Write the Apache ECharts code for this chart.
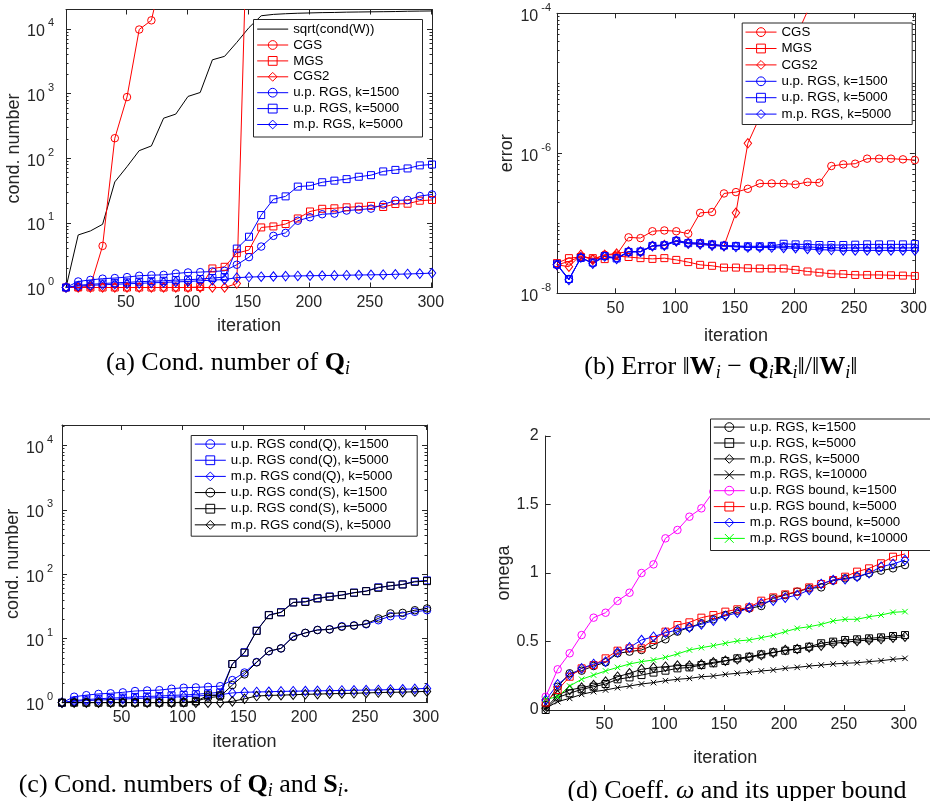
<!DOCTYPE html>
<html><head><meta charset="utf-8">
<script src="https://cdn.jsdelivr.net/npm/echarts@6/dist/echarts.min.js"></script>
<style>html,body{margin:0;padding:0;background:#fff}#c{width:930px;height:801px}</style>
</head><body><div id="c"></div>
<script>
// ---------- data ----------
const iters = [1,11,21,31,41,51,61,71,81,91,101,111,121,131,141,151,161,171,181,191,201,211,221,231,241,251,261,271,281,291,301];
const xTicks = [50,100,150,200,250,300];

// (a) cond. number of Q_i
const a_sqrtW  = [1,6.5,7.5,9.5,43,74,131,155,416,482,904,1040,3330,3770,6200,10500,16000,16800,17200,17500,17700,17900,18000,18200,18300,18400,18500,18600,18800,18900,19000];
const a_CGS    = [1,1,1.05,4.4,204,883,9800,13600,90000];
const a_MGS    = [1,1,1,1,1,1,1,1,1,1,1,1.02,1.97,2.09,3.4,3.8,8.5,8.8,9.6,11.7,15,16.5,16.8,17.4,17.8,18.3,17.6,19.6,19.8,22,22.6];
const a_CGS2   = [1,1,1,1,1,1,1,1,1,1,1,1,1,1,1.15,5e6];
const a_up1500 = [1,1.24,1.31,1.37,1.4,1.45,1.52,1.55,1.57,1.65,1.71,1.73,1.77,1.81,2.25,2.95,4.3,6.3,7.0,10.8,12.2,13.6,13.9,15.5,16,16.6,19.2,22.2,22.6,26,27.5];
const a_up5000 = [1,1.08,1.12,1.15,1.18,1.2,1.23,1.25,1.27,1.3,1.32,1.35,1.4,1.45,4.0,6.1,13.2,23.2,25.7,36.4,37.5,42.5,45,47.5,51.7,54.7,62.5,66,69.5,77.5,80];
const a_mp5000 = [1,1.05,1.08,1.1,1.12,1.14,1.16,1.18,1.2,1.22,1.24,1.27,1.3,1.33,1.42,1.45,1.47,1.48,1.5,1.51,1.52,1.53,1.54,1.55,1.56,1.57,1.58,1.6,1.62,1.64,1.67];

// (b) error
const b_CGS    = [2.55e-8,2.85e-8,3.36e-8,3.08e-8,3.55e-8,3.55e-8,6.3e-8,6.15e-8,7.7e-8,7.9e-8,7.7e-8,7.1e-8,1.41e-7,1.45e-7,2.67e-7,2.79e-7,3.11e-7,3.71e-7,3.71e-7,3.71e-7,3.59e-7,3.88e-7,3.8e-7,6.58e-7,6.95e-7,7.1e-7,8.38e-7,8.38e-7,8.38e-7,8.2e-7,8.0e-7];
const b_MGS    = [2.7e-8,3.18e-8,3.3e-8,3.18e-8,3.08e-8,3.4e-8,3.3e-8,3.18e-8,3.1e-8,3.18e-8,3.0e-8,2.79e-8,2.55e-8,2.47e-8,2.33e-8,2.33e-8,2.28e-8,2.26e-8,2.26e-8,2.26e-8,2.16e-8,2.05e-8,1.98e-8,1.9e-8,1.88e-8,1.83e-8,1.83e-8,1.83e-8,1.81e-8,1.79e-8,1.77e-8];
const b_CGS2   = [2.55e-8,2.4e-8,3.55e-8,3.0e-8,3.55e-8,3.7e-8,3.95e-8,3.95e-8,4.75e-8,4.9e-8,5.6e-8,5.2e-8,5.1e-8,4.9e-8,4.75e-8,1.41e-7,1.39e-6,3.3e-6,8e-6,1.9e-5,4.5e-5,1.07e-4,2.5e-4];
const b_up1500 = [2.55e-8,1.58e-8,3.2e-8,2.7e-8,3.4e-8,3.2e-8,3.95e-8,3.95e-8,4.8e-8,4.9e-8,5.7e-8,5.3e-8,5.2e-8,4.95e-8,4.8e-8,4.7e-8,4.6e-8,4.6e-8,4.7e-8,4.7e-8,4.6e-8,4.6e-8,4.5e-8,4.5e-8,4.45e-8,4.45e-8,4.45e-8,4.45e-8,4.45e-8,4.45e-8,4.45e-8];
const b_up5000 = [2.6e-8,1.6e-8,3.2e-8,2.75e-8,3.4e-8,3.15e-8,3.9e-8,3.95e-8,4.75e-8,4.85e-8,5.6e-8,5.2e-8,5.2e-8,5.0e-8,4.8e-8,4.75e-8,4.7e-8,4.7e-8,4.75e-8,5.1e-8,5.0e-8,5.0e-8,4.9e-8,4.9e-8,4.9e-8,4.95e-8,5.0e-8,5.0e-8,5.0e-8,5.0e-8,5.05e-8];
const b_mp5000 = [2.55e-8,1.55e-8,3.25e-8,2.65e-8,3.35e-8,3.1e-8,3.9e-8,3.9e-8,4.7e-8,4.8e-8,5.5e-8,5.1e-8,5.0e-8,4.8e-8,4.7e-8,4.6e-8,4.5e-8,4.5e-8,4.5e-8,4.45e-8,4.4e-8,4.3e-8,4.2e-8,4.15e-8,4.1e-8,4.1e-8,4.1e-8,4.1e-8,4.1e-8,4.1e-8,4.1e-8];

// (c) cond. numbers of Q_i and S_i
const c_Q1500 = a_up1500;
const c_Q5000 = a_up5000;
const c_Qmp5000 = a_mp5000;
const c_S1500 = [1,1,1,1,1,1,1,1,1,1,1,1.05,1.2,1.25,1.88,2.76,4.24,6.35,7.0,10.6,12.2,13.5,13.8,15.2,15.8,16.9,20.5,24.5,25,27.5,29.3];
const c_S5000 = [1,1,1,1,1,1,1,1,1,1,1,1.05,1.3,1.3,4.0,6.0,13.1,23,25.4,36.3,37,41.8,44.5,47.2,51.4,54.4,61.4,66,69,76,78];
const c_Smp5000 = [1,1,1,1,1,1,1,1,1,1,1.02,1,1,1,1.05,1.15,1.27,1.3,1.31,1.33,1.35,1.36,1.38,1.39,1.4,1.42,1.44,1.45,1.46,1.48,1.5];

// (d) omega and bounds
const d_up1500  = [0.036,0.17,0.268,0.287,0.321,0.348,0.414,0.426,0.438,0.474,0.516,0.572,0.603,0.633,0.662,0.693,0.725,0.742,0.759,0.815,0.839,0.864,0.888,0.895,0.944,0.961,0.973,0.998,1.017,1.034,1.058];
const d_up5000  = [0,0.092,0.122,0.151,0.17,0.19,0.224,0.238,0.255,0.273,0.287,0.304,0.311,0.328,0.341,0.358,0.377,0.389,0.406,0.421,0.433,0.445,0.462,0.487,0.499,0.511,0.516,0.523,0.53,0.54,0.547];
const d_mp5000  = [0.012,0.109,0.146,0.163,0.182,0.207,0.243,0.268,0.297,0.309,0.316,0.324,0.324,0.333,0.348,0.36,0.37,0.384,0.401,0.418,0.438,0.445,0.457,0.47,0.487,0.494,0.504,0.511,0.518,0.528,0.535];
const d_mp10000 = [0.012,0.061,0.085,0.114,0.134,0.146,0.163,0.175,0.19,0.2,0.214,0.224,0.231,0.243,0.248,0.26,0.268,0.275,0.285,0.292,0.304,0.311,0.321,0.328,0.336,0.341,0.345,0.353,0.36,0.37,0.377];
const d_bup1500 = [0.097,0.297,0.414,0.547,0.674,0.71,0.796,0.856,1.0,1.063,1.253,1.314,1.411,1.472,1.594,1.66,1.73,1.8,1.87,1.94,2.01];
const d_bup5000 = [0.054,0.146,0.243,0.304,0.328,0.377,0.433,0.45,0.45,0.511,0.572,0.62,0.64,0.674,0.693,0.718,0.735,0.749,0.798,0.822,0.844,0.864,0.895,0.92,0.949,0.973,1.01,1.034,1.071,1.119,1.139];
const d_bmp5000 = [0.073,0.187,0.255,0.304,0.336,0.353,0.421,0.457,0.511,0.535,0.564,0.584,0.603,0.625,0.652,0.686,0.71,0.747,0.779,0.798,0.82,0.839,0.876,0.92,0.949,0.954,0.973,0.998,1.046,1.066,1.095];
const d_bmp10000= [0.078,0.097,0.175,0.224,0.255,0.285,0.311,0.336,0.353,0.365,0.384,0.409,0.438,0.455,0.47,0.487,0.504,0.511,0.528,0.545,0.572,0.596,0.608,0.625,0.65,0.662,0.662,0.681,0.693,0.713,0.718];

// ---------- styling helpers ----------
const FONT = '"Liberation Sans", Arial, Helvetica, sans-serif';
const SERIF = '"Liberation Serif", "Times New Roman", serif';
const AX = '#262626';
const RED = '#ff0000', BLUE = '#0000ff', BLK = '#000000', MAG = '#ff00ff', GRN = '#00ff00';
const SYM = {
  o: ['circle', 7.5], s: ['rect', 7], d: ['diamond', [7.5, 9.5]],
  x: ['path://M0,0L10,10M10,0L0,10', 5.5], n: ['none', 0]
};
function minors(lo, hi) { const r = []; for (let e = lo; e < hi; e++) for (let m = 2; m <= 9; m++) r.push(+(m + 'e' + e)); return r; }
function supLabel(v) {
  const e = Math.round(Math.log10(v));
  return '{b|10}{s|' + e + '}';
}
const supRich = {
  b: { fontSize: 16, color: AX, fontFamily: FONT, lineHeight: 22, verticalAlign: 'bottom' },
  s: { fontSize: 11, color: AX, fontFamily: FONT, lineHeight: 11, verticalAlign: 'top', padding: [0, 0, 0, 3] }
};

const grids = [], xAxes = [], yAxes = [], series = [], legends = [], boxes = [];

function addPanel(p) {
  const g = grids.length;
  grids.push(Object.assign({ containLabel: false }, p.grid));
  const xi = xAxes.length;
  const axLine = { show: true, onZero: false, lineStyle: { color: AX, width: 1 } };
  xAxes.push({
    type: 'value', gridIndex: g, min: 1, max: 301, position: 'bottom',
    axisLine: axLine,
    axisTick: { show: true, inside: true, length: 5, customValues: xTicks, lineStyle: { color: AX } },
    axisLabel: { show: true, customValues: xTicks, fontSize: 16, color: AX, fontFamily: FONT, margin: 7 },
    splitLine: { show: false },
    name: 'iteration', nameLocation: 'middle', nameGap: p.xNameGap,
    nameTextStyle: { fontSize: 18, color: AX, fontFamily: FONT }
  });
  if (p.box) {
    xAxes.push({
      type: 'value', gridIndex: g, min: 1, max: 301, position: 'top',
      axisLine: axLine,
      axisTick: { show: true, inside: true, length: 5, customValues: xTicks, lineStyle: { color: AX } },
      axisLabel: { show: false }, splitLine: { show: false }
    });
  }
  const yi = yAxes.length;
  if (p.log) {
    yAxes.push({
      type: 'log', logBase: 10, gridIndex: g, min: p.ymin, max: p.ymax, position: 'left',
      axisLine: axLine,
      axisTick: { show: true, inside: true, length: 5, customValues: p.major, lineStyle: { color: AX } },
      axisLabel: { show: true, customValues: p.labels, formatter: supLabel, rich: supRich, margin: p.labelMargin },
      splitLine: { show: false }, minorTick: { show: false },
      name: p.yName, nameLocation: 'middle', nameGap: p.yNameGap,
      nameTextStyle: { fontSize: 18, color: AX, fontFamily: FONT }
    });
    const extra = [['left', p.minor, 2.5, false], ['right', p.major, 5, true], ['right', p.minor, 2.5, false]];
    extra.forEach(([pos, vals, len, line]) => {
      yAxes.push({
        type: 'log', logBase: 10, gridIndex: g, min: p.ymin, max: p.ymax, position: pos,
        axisLine: Object.assign({}, axLine, { show: line }),
        axisTick: { show: true, inside: true, length: len, customValues: vals, lineStyle: { color: AX } },
        axisLabel: { show: false }, splitLine: { show: false }
      });
    });
  } else {
    yAxes.push({
      type: 'value', gridIndex: g, min: p.ymin, max: p.ymax, interval: p.interval, position: 'left',
      axisLine: axLine,
      axisTick: { show: true, inside: true, length: 5, lineStyle: { color: AX } },
      axisLabel: { show: true, fontSize: 16, color: AX, fontFamily: FONT, margin: p.labelMargin },
      splitLine: { show: false },
      name: p.yName, nameLocation: 'middle', nameGap: p.yNameGap,
      nameTextStyle: { fontSize: 18, color: AX, fontFamily: FONT }
    });
  }
  const legendData = [];
  p.series.forEach(([label, vals, col, sym]) => {
    const name = p.key + '|' + label;
    const [symbol, size] = SYM[sym];
    const isNone = symbol === 'none';
    series.push({
      type: 'line', name, xAxisIndex: xi, yAxisIndex: yi,
      data: vals.map((v, i) => [iters[i], v]),
      symbol: isNone ? 'circle' : symbol, symbolSize: size, showSymbol: !isNone,
      lineStyle: { color: col, width: 1 },
      itemStyle: { color: 'transparent', borderColor: isNone ? 'transparent' : col, borderWidth: 1 },
      emphasis: { disabled: true }, clip: true, animation: false, silent: true
    });
    legendData.push({
      name,
      itemStyle: { color: 'transparent', borderColor: isNone ? 'transparent' : col, borderWidth: 1 },
      lineStyle: { color: col, width: 1 }
    });
  });
  const L = p.legend;
  // legend frame (white box with dark border) drawn above the plotted lines
  boxes.push({
    type: 'rect', z: 50, silent: true,
    shape: { x: L.box[0] + 0.5, y: L.box[1] + 0.5, width: L.box[2], height: L.box[3] },
    style: { fill: '#fff', stroke: AX, lineWidth: 1 }
  });
  legends.push({
    show: true, orient: 'vertical', left: L.left, top: L.top,
    data: legendData, formatter: n => n.slice(2),
    itemWidth: 31, itemHeight: 11, itemGap: L.gap,
    padding: 0, backgroundColor: 'transparent', borderWidth: 0,
    selectedMode: false, z: 60,
    textStyle: { fontSize: 13.3, fontFamily: FONT, color: '#000' }
  });
}

const decMinor14 = minors(0, 4);
addPanel({
  key: 'a', box: true, log: true,
  grid: { left: 66, top: 9.5, width: 366, height: 278 },
  ymin: 1, ymax: 2e4, labels: [1, 10, 100, 1000, 10000], major: [1, 10, 100, 1000, 10000], minor: decMinor14,
  labelMargin: 12, yName: 'cond. number', yNameGap: 35, xNameGap: 30,
  legend: { left: 256.7, top: 22.6, gap: 2.9, box: [253, 19, 169, 117.5] },
  series: [
    ['sqrt(cond(W))', a_sqrtW, BLK, 'n'],
    ['CGS', a_CGS, RED, 'o'],
    ['MGS', a_MGS, RED, 's'],
    ['CGS2', a_CGS2, RED, 'd'],
    ['u.p. RGS, k=1500', a_up1500, BLUE, 'o'],
    ['u.p. RGS, k=5000', a_up5000, BLUE, 's'],
    ['m.p. RGS, k=5000', a_mp5000, BLUE, 'd']
  ]
});
addPanel({
  key: 'b', box: true, log: true,
  grid: { left: 557, top: 13.3, width: 364, height: 280 },
  ymin: 1e-8, ymax: 1e-4, labels: [1e-8, 1e-6, 1e-4], major: [1e-8, 1e-6, 1e-4], minor: minors(-8, -4).concat([1e-7, 1e-5]),
  labelMargin: 6, yName: 'error', yNameGap: 39, xNameGap: 34,
  legend: { left: 745, top: 25.6, gap: 3.4, box: [741.7, 22.5, 170, 101.5] },
  series: [
    ['CGS', b_CGS, RED, 'o'],
    ['MGS', b_MGS, RED, 's'],
    ['CGS2', b_CGS2, RED, 'd'],
    ['u.p. RGS, k=1500', b_up1500, BLUE, 'o'],
    ['u.p. RGS, k=5000', b_up5000, BLUE, 's'],
    ['m.p. RGS, k=5000', b_mp5000, BLUE, 'd']
  ]
});
addPanel({
  key: 'c', box: true, log: true,
  grid: { left: 62, top: 425, width: 365, height: 277.7 },
  ymin: 1, ymax: 2.1e4, labels: [1, 10, 100, 1000, 10000], major: [1, 10, 100, 1000, 10000], minor: decMinor14.concat([20000]),
  labelMargin: 9, yName: 'cond. number', yNameGap: 35, xNameGap: 30,
  legend: { left: 194.3, top: 437.6, gap: 3.15, box: [190.7, 435, 226, 100.7] },
  series: [
    ['u.p. RGS cond(Q), k=1500', c_Q1500, BLUE, 'o'],
    ['u.p. RGS cond(Q), k=5000', c_Q5000, BLUE, 's'],
    ['m.p. RGS cond(Q), k=5000', c_Qmp5000, BLUE, 'd'],
    ['u.p. RGS cond(S), k=1500', c_S1500, BLK, 'o'],
    ['u.p. RGS cond(S), k=5000', c_S5000, BLK, 's'],
    ['m.p. RGS cond(S), k=5000', c_Smp5000, BLK, 'd']
  ]
});
addPanel({
  key: 'd', box: false, log: false,
  grid: { left: 545.7, top: 436, width: 359.3, height: 274 },
  ymin: 0, ymax: 2, interval: 0.5,
  labelMargin: 7, yName: 'omega', yNameGap: 33, xNameGap: 39,
  legend: { left: 713.3, top: 420.6, gap: 2.9, box: [710, 418.5, 240, 131.5] },
  series: [
    ['u.p. RGS, k=1500', d_up1500, BLK, 'o'],
    ['u.p. RGS, k=5000', d_up5000, BLK, 's'],
    ['m.p. RGS, k=5000', d_mp5000, BLK, 'd'],
    ['m.p. RGS, k=10000', d_mp10000, BLK, 'x'],
    ['u.p. RGS bound, k=1500', d_bup1500, MAG, 'o'],
    ['u.p. RGS bound, k=5000', d_bup5000, RED, 's'],
    ['m.p. RGS bound, k=5000', d_bmp5000, BLUE, 'd'],
    ['m.p. RGS bound, k=10000', d_bmp10000, GRN, 'x']
  ]
});

const capRich = {
  t: { fontSize: 26, fontFamily: SERIF, color: '#000', lineHeight: 30 },
  b: { fontSize: 26, fontFamily: SERIF, fontWeight: 'bold', color: '#000', lineHeight: 30 },
  i: { fontSize: 26, fontFamily: SERIF, fontStyle: 'italic', color: '#000', lineHeight: 30 },
  s: { fontSize: 18, fontFamily: SERIF, fontStyle: 'italic', color: '#000', lineHeight: 15, verticalAlign: 'bottom' }
};
function caption(x, y, text) {
  return { type: 'text', x, y, silent: true, z: 70, style: { text, rich: capRich, align: 'center', verticalAlign: 'middle', font: '26px ' + SERIF, fill: '#000' } };
}

const option = {
  backgroundColor: '#fff',
  animation: false,
  grid: grids, xAxis: xAxes, yAxis: yAxes, series, legend: legends,
  graphic: boxes.concat([
    caption(228, 363, '{t|(a) Cond. number of }{b|Q}{s|i}'),
    caption(721, 367, '{t|(b) Error ‖}{b|W}{s|i}{t| − }{b|Q}{s|i}{b|R}{s|i}{t|‖/‖}{b|W}{s|i}{t|‖}'),
    caption(184, 785, '{t|(c) Cond. numbers of }{b|Q}{s|i}{t| and }{b|S}{s|i}{t|.}'),
    caption(737, 791, '{t|(d) Coeff. }{i|ω}{t| and its upper bound}')
  ])
};
const chart = echarts.init(document.getElementById('c'), null, { renderer: 'canvas', width: 930, height: 801 });
chart.setOption(option);
</script>
</body></html>
